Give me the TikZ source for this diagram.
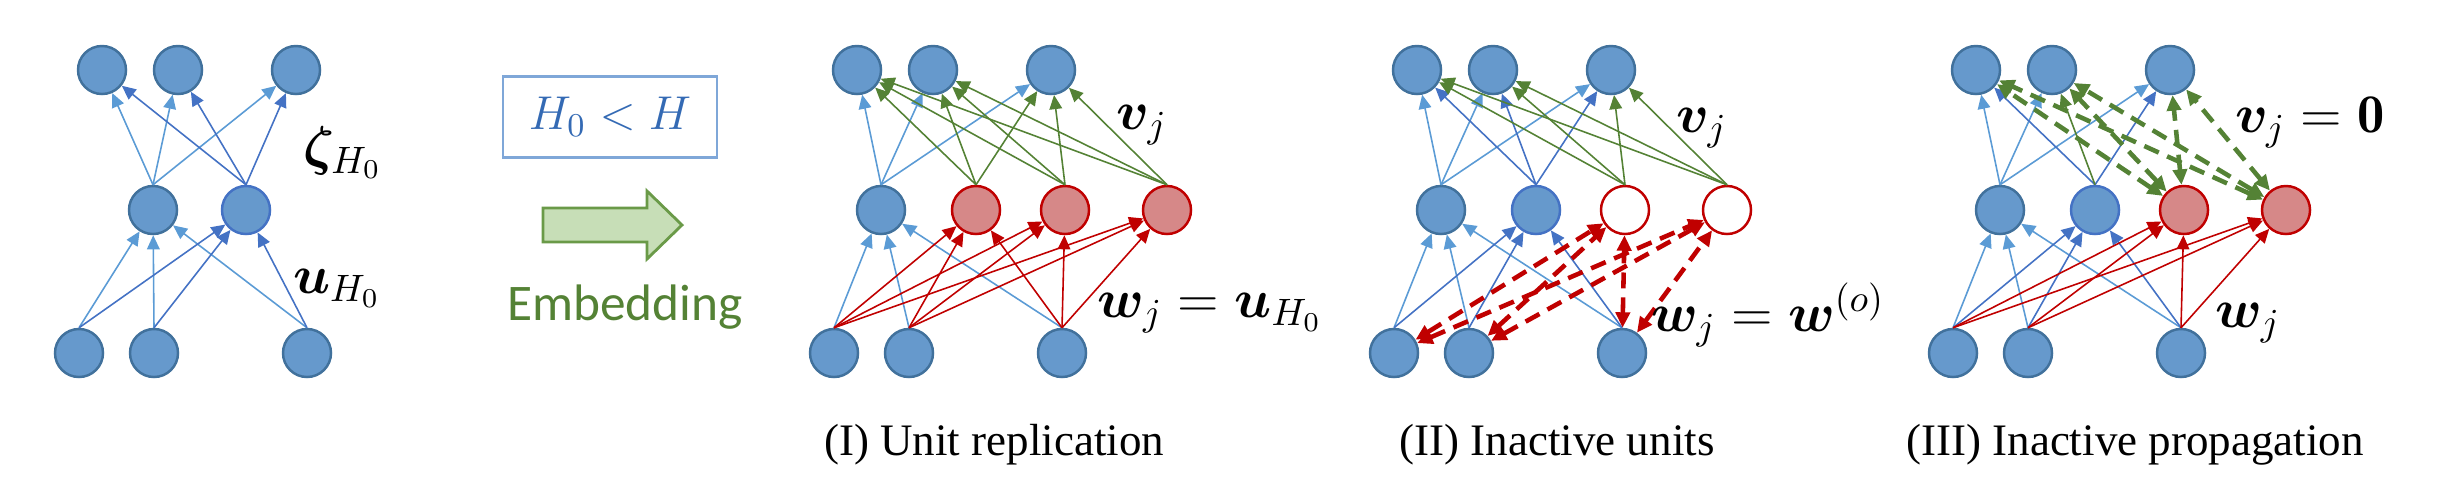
\RequirePackage{fix-cm}
\documentclass[tikz,border=0pt]{standalone}
\usepackage{fontspec}
\usepackage{bm}
\newfontfamily\capfont{Liberation Serif}
\newfontfamily\embfont{Carlito}
\usetikzlibrary{arrows.meta}
\definecolor{EmbNodeBlue}{RGB}{102,153,204}
\definecolor{EmbNodeLine}{RGB}{65,113,156}
\definecolor{EmbNodeRed}{RGB}{214,136,136}
\definecolor{EmbRed}{RGB}{192,0,0}
\definecolor{EmbLight}{RGB}{91,155,213}
\definecolor{EmbDark}{RGB}{68,114,196}
\definecolor{EmbGreen}{RGB}{84,130,53}
\definecolor{EmbArrowFill}{RGB}{199,222,183}
\definecolor{EmbArrowLine}{RGB}{106,154,72}
\definecolor{EmbBoxLine}{RGB}{127,167,216}
\definecolor{EmbText}{RGB}{52,106,180}
\tikzset{
  emb/unit/.style={
    circle,
    draw=EmbNodeLine,
    line width=0.7pt,
    fill=EmbNodeBlue,
    minimum size=0.48cm,
    inner sep=0pt
  },
  emb/unitdark/.style={emb/unit, draw=EmbDark},
  emb/copy/.style={emb/unit, draw=EmbRed, fill=EmbNodeRed},
  emb/off/.style={emb/unit, draw=EmbRed, fill=white},
  emb/light/.style={-{Triangle[length=4pt,width=3.6pt]}, line width=0.45pt, draw=EmbLight},
  emb/dark/.style={-{Triangle[length=4pt,width=3.6pt]}, line width=0.45pt, draw=EmbDark},
  emb/green/.style={-{Triangle[length=4pt,width=3.6pt]}, line width=0.45pt, draw=EmbGreen},
  emb/red/.style={-{Triangle[length=4pt,width=3.6pt]}, line width=0.45pt, draw=EmbRed},
  emb/reddash/.style={{Triangle[length=4.4pt,width=4pt]}-{Triangle[length=4.4pt,width=4pt]}, line width=1.3pt, dash pattern=on 4.5pt off 2.6pt, draw=EmbRed},
  emb/greendash/.style={{Triangle[length=4.4pt,width=4pt]}-{Triangle[length=4.4pt,width=4pt]}, line width=1.3pt, dash pattern=on 4.5pt off 2.6pt, draw=EmbGreen},
  emb/cond/.style={draw=EmbBoxLine, line width=0.8pt, minimum width=2.14cm, minimum height=0.81cm, text=EmbText, font=\fontsize{13.5}{16}\selectfont},
  emb/blockarrow/.style={draw=EmbArrowLine, line width=0.8pt, fill=EmbArrowFill},
  emb/embtext/.style={text=EmbGreen, font=\embfont\fontsize{14.6}{17}\selectfont},
  emb/math/.style={font=\fontsize{15.5}{18}\selectfont},
  emb/caption/.style={font=\capfont\fontsize{12.8}{15}\selectfont}
}
\begin{document}
\begin{tikzpicture}[x=0.01cm,y=-0.01cm]
  \useasboundingbox (0,0) rectangle (2442,502);
  \foreach \p/\x in {a/102,b/857,c/1417,d/1976}{
    \foreach \i/\dx in {1/0,2/76,3/194}
      {\node[emb/unit] (\p-t\i) at (\x+\dx,70) {};}
    \foreach \i/\dx in {1/-23,2/52,3/205}
      {\node[emb/unit] (\p-b\i) at (\x+\dx,353) {};}
  }
  \node[emb/unit] (a-h1) at (153,210) {};
  \node[emb/unitdark] (a-h2) at (246,210) {};
  \node[emb/unit] (b-h1) at (881,210) {};
  \node[emb/copy] (b-h2) at (976,210) {};
  \node[emb/copy] (b-h3) at (1065,210) {};
  \node[emb/copy] (b-h4) at (1167,210) {};
  \node[emb/unit] (c-h1) at (1441,210) {};
  \node[emb/unitdark] (c-h2) at (1536,210) {};
  \node[emb/off] (c-h3) at (1625,210) {};
  \node[emb/off] (c-h4) at (1727,210) {};
  \node[emb/unit] (d-h1) at (2000,210) {};
  \node[emb/unitdark] (d-h2) at (2095,210) {};
  \node[emb/copy] (d-h3) at (2184,210) {};
  \node[emb/copy] (d-h4) at (2286,210) {};

  \foreach \p in {a,b,c,d}{
    \foreach \i in {1,2,3}{
      \draw[emb/light] (\p-h1.north) -- (\p-t\i);
      \draw[emb/light] (\p-b\i.north) -- (\p-h1);
    }
  }
  \foreach \p in {a,c}{
    \foreach \i in {1,2,3}{
      \draw[emb/dark] (\p-h2.north) -- (\p-t\i);
      \draw[emb/dark] (\p-b\i.north) -- (\p-h2);
    }
  }
  \foreach \i in {1,2,3}
    {\draw[emb/dark] (d-b\i.north) -- (d-h2);}
  \draw[emb/dark] (d-h2.north) -- (d-t1);
  \draw[emb/dark] (d-h2.north) -- (d-t3);
  \draw[emb/green] (d-h2.north) -- (d-t2);
  \foreach \h in {2,3,4}{
    \foreach \i in {1,2,3}{
      \draw[emb/green] (b-h\h.north) -- (b-t\i);
      \draw[emb/red] (b-b\i.north) -- (b-h\h);
    }
  }
  \foreach \h in {3,4}{
    \foreach \i in {1,2,3}{
      \draw[emb/green] (c-h\h.north) -- (c-t\i);
      \draw[emb/reddash] (c-b\i) -- (c-h\h);
      \draw[emb/greendash] (d-h\h) -- (d-t\i);
      \draw[emb/red] (d-b\i.north) -- (d-h\h);
    }
  }

  \node[emb/math] (a-zeta) at (343,153) {$\bm{\zeta}_{H_0}$};
  \node[emb/math] (a-u) at (337,288) {$\bm{u}_{H_0}$};
  \node[emb/cond] (cond) at (610,117) {$H_0<H$};
  \draw[emb/blockarrow] (543,208) -- (647,208) -- (647,191) -- (682,225)
    -- (647,259) -- (647,242) -- (543,242) -- cycle;
  \node[emb/embtext] (embtext) at (625,307) {Embedding};
  \node[emb/math] (b-v) at (1142,125) {$\bm{v}_j$};
  \node[emb/math] (b-w) at (1210,313) {$\bm{w}_j=\bm{u}_{H_0}$};
  \node[emb/math] (c-v) at (1702,128) {$\bm{v}_j$};
  \node[emb/math] (c-w) at (1768,315) {$\bm{w}_j=\bm{w}^{(o)}$};
  \node[emb/math] (d-v) at (2310,122) {$\bm{v}_j=\mathbf{0}$};
  \node[emb/math] (d-w) at (2248,323) {$\bm{w}_j$};
  \node[emb/caption] (b-cap) at (994,445) {(I) Unit replication};
  \node[emb/caption] (c-cap) at (1557,445) {(II) Inactive units};
  \node[emb/caption] (d-cap) at (2135,445) {(III) Inactive propagation};
\end{tikzpicture}
\end{document}
